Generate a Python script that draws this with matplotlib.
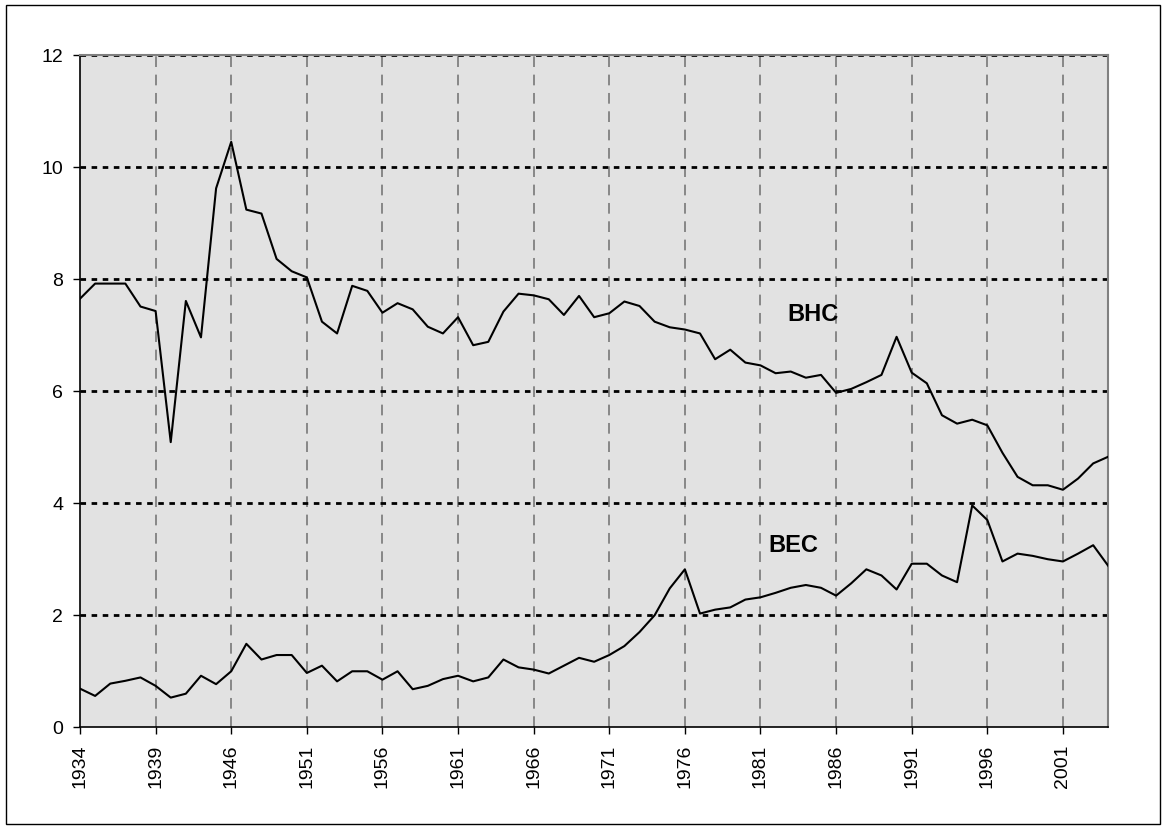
import matplotlib
matplotlib.use("Agg")
import matplotlib.pyplot as plt
from matplotlib.patches import Rectangle

plt.rcParams['font.family'] = ['Liberation Sans', 'DejaVu Sans']

years = (list(range(1934, 1940)) + [1941, 1942, 1943, 1944] +
         list(range(1946, 2005)))

bhc = [7.65, 7.92, 7.92, 7.92, 7.51, 7.43, 5.09, 7.61, 6.96, 9.62,
       10.45, 9.24, 9.17, 8.36, 8.14, 8.03, 7.24, 7.03, 7.88, 7.79,
       7.40, 7.57, 7.46, 7.15, 7.03, 7.32, 6.82, 6.88, 7.42, 7.74,
       7.71, 7.64, 7.36, 7.70, 7.32, 7.39, 7.60, 7.52, 7.24, 7.14,
       7.10, 7.03, 6.57, 6.74, 6.51, 6.46, 6.32, 6.35, 6.24, 6.29,
       5.97, 6.04, 6.16, 6.29, 6.97, 6.33, 6.14, 5.57, 5.42, 5.49,
       5.39, 4.90, 4.47, 4.32, 4.32, 4.24, 4.44, 4.71, 4.83]

bec = [0.69, 0.56, 0.78, 0.83, 0.89, 0.74, 0.53, 0.60, 0.92, 0.77,
       1.00, 1.49, 1.21, 1.29, 1.29, 0.97, 1.10, 0.82, 1.00, 1.00,
       0.85, 1.00, 0.68, 0.74, 0.86, 0.92, 0.82, 0.89, 1.21, 1.07,
       1.03, 0.96, 1.10, 1.24, 1.17, 1.29, 1.45, 1.70, 2.00, 2.48,
       2.82, 2.03, 2.10, 2.14, 2.28, 2.32, 2.40, 2.49, 2.54, 2.49,
       2.35, 2.57, 2.82, 2.71, 2.46, 2.92, 2.92, 2.71, 2.59, 3.96,
       3.70, 2.96, 3.10, 3.06, 3.00, 2.96, 3.10, 3.25, 2.88]

series_labels = ["BHC", "BEC"]
y_ticks = [0, 2, 4, 6, 8, 10, 12]

W, H = 1166, 826
fig = plt.figure(figsize=(W / 100, H / 100), dpi=100)
fig.patch.set_facecolor("white")

# outer chart border
fig.add_artist(Rectangle((6 / W, 2 / H), (1160 - 6) / W, (821 - 2) / H,
                         transform=fig.transFigure, fill=False,
                         edgecolor="black", linewidth=1.0))

left, right, top, bottom = 80, 1108.3, 55, 727.3
ax = fig.add_axes([left / W, (H - bottom) / H, (right - left) / W, (bottom - top) / H])
ax.set_facecolor("#e2e2e2")

x = list(range(len(years)))
ax.set_xlim(0, len(years) - 1)
ax.set_ylim(0, 12)

# grid
xt = list(range(0, len(years), 5))
for xi in xt[1:]:
    ax.axvline(xi, color="#6e6e6e", linewidth=1.1, linestyle=(0, (7, 5)), zorder=1)
for yv in y_ticks[1:]:
    ax.axhline(yv, color="black", linewidth=2.0, linestyle=(0, (2, 2)), zorder=1)

ax.plot(x, bhc, color="black", linewidth=1.5, zorder=3)
ax.plot(x, bec, color="black", linewidth=1.5, zorder=3)

ax.text(48.5, 7.36, series_labels[0], fontsize=17, fontweight="bold",
        ha="center", va="center", zorder=4)
ax.text(47.2, 3.25, series_labels[1], fontsize=17, fontweight="bold",
        ha="center", va="center", zorder=4)

ax.set_xticks(xt)
ax.set_xticklabels([str(years[i]) for i in xt], rotation=90, fontsize=14)
ax.set_yticks(y_ticks)
ax.set_yticklabels([str(v) for v in y_ticks], fontsize=14)
ax.tick_params(axis="both", direction="out", length=5, width=1.0, color="black")
ax.tick_params(axis="x", pad=7.5)
ax.tick_params(axis="y", pad=7)

for s in ["left", "bottom"]:
    ax.spines[s].set_color("black")
    ax.spines[s].set_linewidth(1.2)
for s in ["top", "right"]:
    ax.spines[s].set_color("#808080")
    ax.spines[s].set_linewidth(1.5)

fig.savefig("out.png", dpi=100, facecolor="white")
